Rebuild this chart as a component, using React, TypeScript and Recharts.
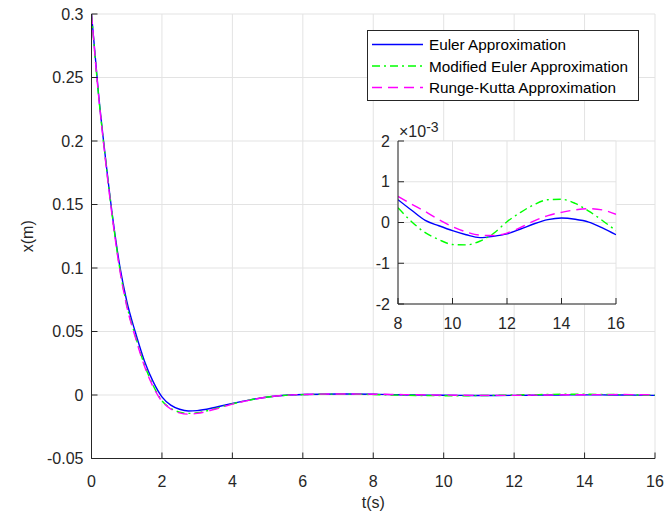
import React from 'react';
import { LineChart, Line, XAxis, YAxis, CartesianGrid } from 'recharts';

// ---- data (main axes, 0..7 s) ----
const mainT = [0, 0.2, 0.4, 0.6, 0.8, 1.0, 1.25, 1.5, 1.75, 2.0, 2.25, 2.5, 2.75, 3.0, 3.5, 4.0, 4.5, 5.0, 5.5, 6.0, 7.0];
const eulerMain = [0.3, 0.237, 0.186, 0.14, 0.102, 0.074, 0.049, 0.027, 0.0105, -0.0015, -0.0080, -0.0112, -0.0126, -0.0123, -0.0098, -0.0066, -0.0038, -0.0016, -0.0002, 0.0004, 0.0008];
const modEulerMain = [0.3, 0.236, 0.185, 0.139, 0.1, 0.071, 0.046, 0.024, 0.0075, -0.0045, -0.0105, -0.0135, -0.0145, -0.014, -0.0108, -0.007, -0.0039, -0.0016, -0.0003, 0.0003, 0.0007];
const rkMain = [0.3, 0.236, 0.184, 0.138, 0.099, 0.07, 0.045, 0.023, 0.0065, -0.005, -0.0110, -0.0141, -0.0151, -0.0145, -0.0112, -0.0072, -0.004, -0.0016, -0.0002, 0.0004, 0.0008];

// ---- data (inset, 8..16 s, values in units of 1e-3 m) ----
const insetT = [8, 8.5, 9, 9.5, 10, 10.5, 11, 11.5, 12, 12.5, 13, 13.5, 14, 14.5, 15, 15.5, 16];
const eulerInset = [0.56, 0.3, 0.05, -0.08, -0.2, -0.3, -0.37, -0.34, -0.28, -0.16, -0.03, 0.07, 0.11, 0.08, 0.01, -0.13, -0.3];
const modEulerInset = [0.36, 0.02, -0.25, -0.42, -0.54, -0.55, -0.46, -0.27, 0.02, 0.25, 0.44, 0.56, 0.57, 0.47, 0.28, 0.05, -0.2];
const rkInset = [0.64, 0.45, 0.27, 0.07, -0.1, -0.23, -0.31, -0.32, -0.26, -0.12, 0.04, 0.17, 0.25, 0.31, 0.34, 0.31, 0.2];
const insetScale = 1e-3;

// ---- ticks ----
const mainXTicks = [0, 2, 4, 6, 8, 10, 12, 14, 16];
const mainYTicks = [-0.05, 0, 0.05, 0.1, 0.15, 0.2, 0.25, 0.3];
const insetXTicks = [8, 10, 12, 14, 16];
const insetYTicks = [-2, -1, 0, 1, 2];

const seriesNames = ['Euler Approximation', 'Modified Euler Approximation', 'Runge-Kutta Approximation'];

const mainData = [
  ...mainT.map((t, i) => ({ t, euler: eulerMain[i], mod: modEulerMain[i], rk: rkMain[i] })),
  ...insetT.map((t, i) => ({ t, euler: eulerInset[i] * insetScale, mod: modEulerInset[i] * insetScale, rk: rkInset[i] * insetScale })),
];
const insetData = insetT.map((t, i) => ({ t, euler: eulerInset[i], mod: modEulerInset[i], rk: rkInset[i] }));

const AXIS = '#262626';
const GRID = '#e3e3e3';
const FONT = '"Liberation Sans", Arial, Helvetica, sans-serif';
const TICK_FS = 16;
const BLUE = '#0000ff';
const GREEN = '#00ff00';
const MAGENTA = '#ff00ff';
const LW = 1.4;
const DASH_GREEN = '8 4 2 4';
const DASH_MAGENTA = '10 6';

const TICK_LEN = 6;

const bottomTick = (gap: number, show: boolean) => (p: any) => (
  <g>
    <line x1={p.x} y1={p.y} x2={p.x} y2={p.y - TICK_LEN} stroke={AXIS} strokeWidth={1} />
    {show && (
      <text x={p.x} y={p.y + gap} textAnchor="middle" dominantBaseline="central" fill={AXIS} fontSize={TICK_FS} fontFamily={FONT}>
        {String(p.payload.value)}
      </text>
    )}
  </g>
);
const topTick = () => (p: any) => (
  <line x1={p.x} y1={p.y} x2={p.x} y2={p.y + TICK_LEN} stroke={AXIS} strokeWidth={1} />
);
const leftTick = (gap: number) => (p: any) => (
  <g>
    <line x1={p.x} y1={p.y} x2={p.x + TICK_LEN} y2={p.y} stroke={AXIS} strokeWidth={1} />
    <text x={p.x - gap} y={p.y} textAnchor="end" dominantBaseline="central" fill={AXIS} fontSize={TICK_FS} fontFamily={FONT}>
      {String(p.payload.value)}
    </text>
  </g>
);
const rightTick = () => (p: any) => (
  <line x1={p.x} y1={p.y} x2={p.x - TICK_LEN} y2={p.y} stroke={AXIS} strokeWidth={1} />
);

const axisLine = { stroke: AXIS, strokeWidth: 1 };

export default function App() {
  return (
    <div style={{ position: 'absolute', left: 0, top: 0, width: 664, height: 515, background: '#fff', fontFamily: FONT }}>
      <div style={{ position: 'absolute', left: 0, top: 0 }}>
        <LineChart width={664} height={515} data={mainData} margin={{ top: 14, right: 9, bottom: 0, left: 0 }}>
          <CartesianGrid stroke={GRID} strokeWidth={1} horizontalValues={mainYTicks} verticalValues={mainXTicks} />
          <XAxis
            dataKey="t"
            type="number"
            domain={[0, 16]}
            ticks={mainXTicks}
            interval={0}
            allowDataOverflow
            height={56.5}
            tickSize={0}
            tickMargin={0}
            tickLine={false}
            axisLine={axisLine}
            tick={bottomTick(23, true)}
            label={{ value: 't(s)', position: 'insideBottom', offset: 7, fill: AXIS, fontSize: TICK_FS, fontFamily: FONT }}
          />
          <XAxis
            xAxisId="top"
            orientation="top"
            dataKey="t"
            type="number"
            domain={[0, 16]}
            ticks={mainXTicks}
            interval={0}
            allowDataOverflow
            height={0}
            tickSize={0}
            tickMargin={0}
            tickLine={false}
            axisLine={axisLine}
            tick={topTick()}
          />
          <YAxis
            type="number"
            domain={[-0.05, 0.3]}
            ticks={mainYTicks}
            interval={0}
            allowDataOverflow
            width={91.5}
            tickSize={0}
            tickMargin={0}
            tickLine={false}
            axisLine={axisLine}
            tick={leftTick(8)}
            label={{ value: 'x(m)', angle: -90, position: 'insideLeft', offset: 27, fill: AXIS, fontSize: TICK_FS, fontFamily: FONT, style: { textAnchor: 'middle' } }}
          />
          <YAxis
            yAxisId="right"
            orientation="right"
            type="number"
            domain={[-0.05, 0.3]}
            ticks={mainYTicks}
            interval={0}
            allowDataOverflow
            width={0}
            tickSize={0}
            tickMargin={0}
            tickLine={false}
            axisLine={axisLine}
            tick={rightTick()}
          />
          <Line type="monotone" dataKey="euler" name={seriesNames[0]} stroke={BLUE} strokeWidth={LW} dot={false} isAnimationActive={false} />
          <Line type="monotone" dataKey="mod" name={seriesNames[1]} stroke={GREEN} strokeWidth={LW} strokeDasharray={DASH_GREEN} dot={false} isAnimationActive={false} />
          <Line type="monotone" dataKey="rk" name={seriesNames[2]} stroke={MAGENTA} strokeWidth={LW} strokeDasharray={DASH_MAGENTA} dot={false} isAnimationActive={false} />
        </LineChart>
      </div>

      {/* inset axes */}
      <div style={{ position: 'absolute', left: 340, top: 120 }}>
        <LineChart width={290} height={215} data={insetData} margin={{ top: 21, right: 14, bottom: 0, left: 0 }}>
          <CartesianGrid stroke={GRID} strokeWidth={1} fill="#ffffff" fillOpacity={1} horizontalValues={insetYTicks} verticalValues={insetXTicks} />
          <XAxis
            dataKey="t"
            type="number"
            domain={[8, 16]}
            ticks={insetXTicks}
            interval={0}
            allowDataOverflow
            height={31}
            tickSize={0}
            tickMargin={0}
            tickLine={false}
            axisLine={axisLine}
            tick={bottomTick(19, true)}
          />
          <XAxis
            xAxisId="top"
            orientation="top"
            dataKey="t"
            type="number"
            domain={[8, 16]}
            ticks={insetXTicks}
            interval={0}
            allowDataOverflow
            height={0}
            tickSize={0}
            tickMargin={0}
            tickLine={false}
            axisLine={axisLine}
            tick={topTick()}
          />
          <YAxis
            type="number"
            domain={[-2, 2]}
            ticks={insetYTicks}
            interval={0}
            allowDataOverflow
            width={58}
            tickSize={0}
            tickMargin={0}
            tickLine={false}
            axisLine={axisLine}
            tick={leftTick(8)}
          />
          <YAxis
            yAxisId="right"
            orientation="right"
            type="number"
            domain={[-2, 2]}
            ticks={insetYTicks}
            interval={0}
            allowDataOverflow
            width={0}
            tickSize={0}
            tickMargin={0}
            tickLine={false}
            axisLine={axisLine}
            tick={rightTick()}
          />
          <Line type="monotone" dataKey="euler" stroke={BLUE} strokeWidth={LW} dot={false} isAnimationActive={false} />
          <Line type="monotone" dataKey="mod" stroke={GREEN} strokeWidth={LW} strokeDasharray={DASH_GREEN} dot={false} isAnimationActive={false} />
          <Line type="monotone" dataKey="rk" stroke={MAGENTA} strokeWidth={LW} strokeDasharray={DASH_MAGENTA} dot={false} isAnimationActive={false} />
        </LineChart>
      </div>

      {/* exponent label of inset, and legend */}
      <svg style={{ position: 'absolute', left: 0, top: 0 }} width={664} height={515} pointerEvents="none">
        <text x={399} y={137} fill={AXIS} fontSize={16} fontFamily={FONT}>
          ×10
          <tspan dy={-5.5} fontSize={14}>-3</tspan>
        </text>
        <rect x={367.5} y={30.5} width={271} height={70} fill="#ffffff" stroke={AXIS} strokeWidth={1} />
        {[
          { name: seriesNames[0], color: BLUE, dash: undefined as string | undefined, y: 44.5 },
          { name: seriesNames[1], color: GREEN, dash: DASH_GREEN, y: 66 },
          { name: seriesNames[2], color: MAGENTA, dash: DASH_MAGENTA, y: 87.5 },
        ].map((e) => (
          <g key={e.name}>
            <line x1={372} y1={e.y} x2={423} y2={e.y} stroke={e.color} strokeWidth={LW} strokeDasharray={e.dash} />
            <text x={429} y={e.y} dominantBaseline="central" fill="#000" fontSize={15.3} fontFamily={FONT}>
              {e.name}
            </text>
          </g>
        ))}
      </svg>
    </div>
  );
}
